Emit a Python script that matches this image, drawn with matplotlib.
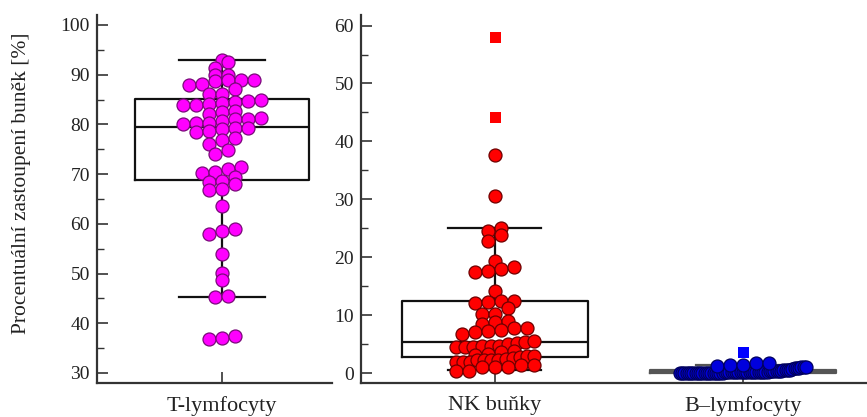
import numpy as np
import matplotlib
matplotlib.use("Agg")
import matplotlib.pyplot as plt
from matplotlib.ticker import MultipleLocator

plt.rcParams['font.family'] = ['Liberation Serif', 'DejaVu Serif']

# procentualni zastoupeni (%)
t_lymf = [93.0, 92.6, 91.4, 89.9, 90.0, 88.0, 88.2, 88.7, 88.9, 88.9, 89.0,
          87.2, 86.1, 86.1, 83.8, 83.9, 84.0, 84.2, 84.6, 84.7, 85.0, 82.1,
          82.4, 82.6, 81.3, 80.7, 81.0, 81.1, 80.0, 80.2, 80.2, 78.4, 78.7,
          79.1, 79.2, 79.3, 76.9, 77.2, 76.1, 74.8, 74.0, 70.3, 70.4, 71.0,
          71.5, 69.5, 68.5, 68.7, 68.0, 66.8, 67.0, 63.6, 58.0, 58.6, 59.0,
          53.9, 50.1, 48.7, 45.3, 45.5, 36.8, 37.1, 37.4]
nk_bunky = [24.6, 25.0, 23.8, 22.8, 19.3, 17.4, 17.6, 17.9, 18.3, 14.1,
            12.1, 12.2, 12.4, 12.5, 11.2, 10.2, 10.2, 8.5, 8.8, 8.9,
            6.8, 7.1, 7.2, 7.5, 7.8, 7.8,
            4.5, 4.5, 4.5, 4.6, 4.6, 4.7, 5.0, 5.2, 5.4, 5.5,
            3.7, 3.8, 3.1, 3.3,
            1.9, 1.9, 1.9, 2.3, 2.3, 2.3, 2.3, 2.4, 2.6, 2.7, 2.9, 3.0,
            0.4, 0.4, 1.0, 1.1, 1.1, 1.3, 1.4, 30.6, 37.7]
nk_outliers = [44.2, 58.0]
b_lymf = [0.0] * 20 + [0.1] * 14 + [0.2] * 6 + [0.3] * 4 + \
         [0.4, 0.4, 0.5, 0.5, 0.6, 0.6, 0.7, 0.8, 0.8, 0.9, 1.0, 1.0, 1.1] + \
         [1.2, 1.4, 1.4, 1.8, 1.8]
b_outliers = [3.7]

# q1, median, q3, whisker low, whisker high
t_stats = dict(q1=68.8, med=79.5, q3=85.1, whislo=45.3, whishi=93.0)
nk_stats = dict(q1=2.8, med=5.4, q3=12.4, whislo=0.5, whishi=25.0)
b_stats = dict(q1=0.0, med=0.2, q3=0.6, whislo=0.0, whishi=1.4)

labels = ['T-lymfocyty', 'NK buňky', 'B–lymfocyty']

D_PX = 13.0  # marker diameter in pixels


def dot_offsets(ax, values):
    # group sorted values into rows, each row centred, lowest value on the left
    values = np.asarray(values, float)
    p0, p1 = ax.transData.transform([(0, 0), (1, 1)])
    px_x, px_y = p1 - p0
    h = 0.5 * D_PX / px_y
    order = np.argsort(values, kind='stable')
    rows, cur, start = [], [], None
    for i in order:
        if cur and values[i] - start > h:
            rows.append(cur)
            cur = []
        if not cur:
            start = values[i]
        cur.append(i)
    rows.append(cur)
    xs = np.zeros(len(values))
    for idx in rows:
        n = len(idx)
        cap = max(3 * D_PX, 0.085 * n * D_PX)
        step = D_PX
        if n > 1 and (n - 1) / 2 * step > cap:
            step = 2 * cap / (n - 1)
        xs[idx] = (np.arange(n) - (n - 1) / 2) * step / px_x
    return xs


def style_axes(ax):
    for s in ['top', 'right']:
        ax.spines[s].set_visible(False)
    for s in ['left', 'bottom']:
        ax.spines[s].set_linewidth(1.6)
        ax.spines[s].set_color('#333333')
    ax.tick_params(axis='y', which='major', direction='in', length=8,
                   width=1.2, color='#333333', labelsize=14, pad=5,
                   labelcolor='#222222')
    ax.tick_params(axis='y', which='minor', direction='in', length=5,
                   width=1.0, color='#333333')
    ax.tick_params(axis='x', direction='in', length=8, width=1.2,
                   color='#333333', labelsize=16, pad=9.5, labelcolor='#222222')


def draw_box(ax, stats, pos, width, color='#111111'):
    lp = dict(color=color, linewidth=1.6)
    ax.bxp([dict(stats)], positions=[pos], widths=[width],
           capwidths=[width / 2], showfliers=False,
           boxprops=lp, medianprops=lp, whiskerprops=lp, capprops=lp,
           manage_ticks=False, zorder=2)


fig = plt.figure(figsize=(8.67, 4.17), dpi=100)
ax1 = fig.add_axes([97 / 867, 34.5 / 417, 235 / 867, 367.5 / 417])
ax2 = fig.add_axes([361 / 867, 34.5 / 417, 505 / 867, 367.5 / 417])

ax1.set_xlim(-0.504, 0.444)
ax1.set_ylim(28.08, 102.0)
ax2.set_xlim(-0.54, 1.496)
ax2.set_ylim(-1.64, 61.83)

s_dot = (D_PX * 72 / 100) ** 2
s_sq = (11 * 72 / 100) ** 2

# T-lymfocyty
draw_box(ax1, t_stats, 0, 0.70)
ax1.scatter(dot_offsets(ax1, t_lymf), t_lymf, s=s_dot, c='#ff00ff',
            edgecolors='#7a0a7a', linewidths=0.9, zorder=3)

# NK bunky
draw_box(ax2, nk_stats, 0, 0.75)
ax2.scatter(dot_offsets(ax2, nk_bunky), nk_bunky, s=s_dot, c='#ff0000',
            edgecolors='#6e0000', linewidths=0.9, zorder=3)
ax2.scatter(np.zeros(len(nk_outliers)), nk_outliers, s=s_sq, marker='s',
            c='#ff0000', linewidths=0, zorder=3)

# B-lymfocyty
draw_box(ax2, b_stats, 1, 0.75, color='#555555')
ax2.scatter(1 + dot_offsets(ax2, b_lymf), b_lymf, s=s_dot, c='#0000dd',
            edgecolors='#00005e', linewidths=0.9, zorder=3)
ax2.scatter(np.ones(len(b_outliers)), b_outliers, s=s_sq, marker='s',
            c='#0000ff', linewidths=0, zorder=3)

ax1.set_xticks([0])
ax1.set_xticklabels(labels[:1])
ax1.set_yticks(np.arange(30, 101, 10))
ax1.yaxis.set_minor_locator(MultipleLocator(5))
ax2.set_xticks([0, 1])
ax2.set_xticklabels(labels[1:])
ax2.set_yticks(np.arange(0, 61, 10))
ax2.yaxis.set_minor_locator(MultipleLocator(5))

style_axes(ax1)
style_axes(ax2)

ax1.set_ylabel('Procentuální zastoupení buněk [%]', fontsize=15.5,
               color='#222222')
ax1.yaxis.set_label_coords(-0.28, 0.543)

fig.savefig('out.png', dpi=100)
